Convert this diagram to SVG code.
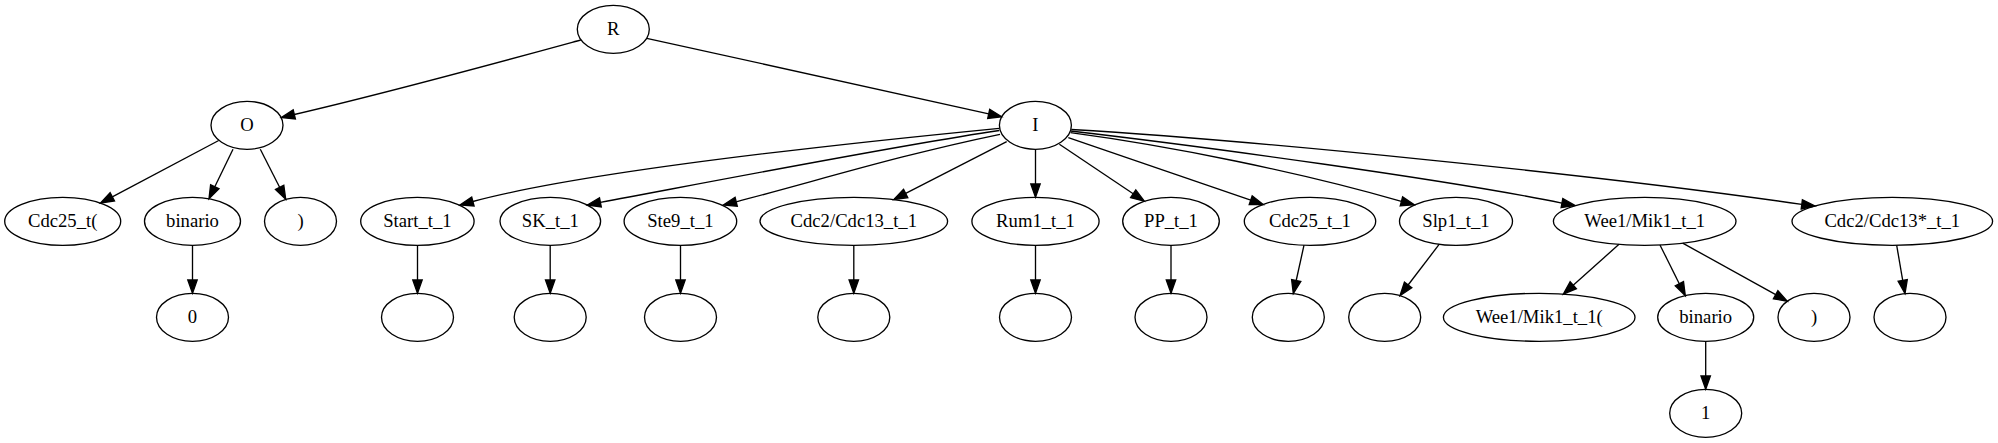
<svg xmlns="http://www.w3.org/2000/svg" width="1998" height="443" viewBox="0 0 1998 443">
<style>
.n ellipse{fill:none;stroke:#000;stroke-width:1.33}
.n text{font-family:"Liberation Serif","Times New Roman",serif;font-size:18.67px;text-anchor:middle;fill:#000}
#edges path{fill:none;stroke:#000;stroke-width:1.33}
#edges polygon{fill:#000;stroke:#000;stroke-width:1.33}
</style>
<rect width="1998" height="443" fill="#fff"/>
<g id="edges">
<path d="M580.8,40 C520.8,56.4 391.7,91.9 294.3,114.5"/><polygon points="293.2,109.9 281.3,117.5 295.4,119.0"/>
<path d="M646.8,38.3 L988.7,113.8"/><polygon points="989.7,109.3 1001.7,116.7 987.7,118.4"/>
<path d="M218.7,140.5 L112.3,196.8"/><polygon points="110.1,192.6 100.5,203 114.5,200.9"/>
<path d="M233,149.3 L214.8,186.8"/><polygon points="210.6,184.8 209,198.8 219.0,188.8"/>
<path d="M260.3,149.3 L279.6,187.3"/><polygon points="275.5,189.4 285.7,199.2 283.8,185.2"/>
<path d="M192.5,245.3 L192.5,280"/><polygon points="187.8,280 192.5,293.3 197.2,280"/>
<path d="M999.3,128.3 C849,143 588.7,170.3 472.9,201.5"/><polygon points="471.7,197.0 460,205 474.1,206.0"/>
<path d="M999.3,130.5 C900,145 720,180 600.4,202.4"/><polygon points="599.5,197.8 587.3,205 601.3,207.0"/>
<path d="M1000,134.3 C900,155 820,180 736.2,201.8"/><polygon points="735.1,197.3 723.3,205 737.3,206.3"/>
<path d="M1006.7,141.7 L905.7,193.4"/><polygon points="903.6,189.3 893.8,199.5 907.8,197.6"/>
<path d="M1035.5,149.3 L1035.5,184"/><polygon points="1030.8,184 1035.5,197.3 1040.2,184"/>
<path d="M1059.4,144.3 L1133.2,193.8"/><polygon points="1130.6,197.7 1144.3,201.2 1135.8,189.9"/>
<path d="M1068.3,137.7 L1250.7,200.2"/><polygon points="1249.2,204.6 1263.3,204.5 1252.2,195.8"/>
<path d="M1070.5,132.7 C1170,146 1300,172 1401.4,201.4"/><polygon points="1400.2,205.9 1414.3,204.8 1402.6,196.9"/>
<path d="M1070.5,131 C1200,146 1450,180 1561.9,203.1"/><polygon points="1561.1,207.7 1575,205.5 1562.8,198.5"/>
<path d="M1071.3,129.5 C1250,140 1600,175 1801.8,204.4"/><polygon points="1801.2,209.0 1815,206 1802.4,199.8"/>
<path d="M417.5,245.3 L417.5,280"/><polygon points="412.8,280 417.5,293.3 422.2,280"/>
<path d="M550.2,245.3 L550.2,280"/><polygon points="545.5,280 550.2,293.3 554.9,280"/>
<path d="M680.5,245.3 L680.5,280"/><polygon points="675.8,280 680.5,293.3 685.2,280"/>
<path d="M853.8,245.3 L853.8,280"/><polygon points="849.1,280 853.8,293.3 858.5,280"/>
<path d="M1035.5,245.3 L1035.5,280"/><polygon points="1030.8,280 1035.5,293.3 1040.2,280"/>
<path d="M1171,245.3 L1171,280"/><polygon points="1166.3,280 1171,293.3 1175.7,280"/>
<path d="M1304,245.2 L1296.2,280.5"/><polygon points="1291.6,279.5 1293.3,293.5 1300.8,281.5"/>
<path d="M1439.3,244.2 L1408.1,285.0"/><polygon points="1404.4,282.2 1400,295.6 1411.8,287.8"/>
<path d="M1619,244.3 L1573.2,285.2"/><polygon points="1570.1,281.7 1563.3,294.1 1576.4,288.7"/>
<path d="M1660,245 L1679.3,283.7"/><polygon points="1675.2,285.8 1685.3,295.6 1683.5,281.6"/>
<path d="M1682.7,243.1 L1775.7,294.7"/><polygon points="1773.4,298.8 1787.3,301.2 1777.9,290.7"/>
<path d="M1896.7,245.3 L1902.7,280.4"/><polygon points="1898.1,281.2 1905,293.5 1907.3,279.6"/>
<path d="M1705.7,341.3 L1705.7,376"/><polygon points="1701,376 1705.7,389.3 1710.4,376"/>
</g>
<g id="R" class="n"><ellipse cx="613.3" cy="29.3" rx="36" ry="24"/><text x="613.3" y="35.3">R</text></g>
<g id="O" class="n"><ellipse cx="247" cy="125.3" rx="36" ry="24"/><text x="247" y="131.3">O</text></g>
<g id="I" class="n"><ellipse cx="1035.4" cy="125.3" rx="36" ry="24"/><text x="1035.4" y="131.3">I</text></g>
<g id="cdc25open" class="n"><ellipse cx="62.7" cy="221.3" rx="58" ry="24"/><text x="62.7" y="227.3">Cdc25_t(</text></g>
<g id="binario1" class="n"><ellipse cx="192.5" cy="221.3" rx="48" ry="24"/><text x="192.5" y="227.3">binario</text></g>
<g id="close1" class="n"><ellipse cx="300.5" cy="221.3" rx="36" ry="24"/><text x="300.5" y="227.3">)</text></g>
<g id="start" class="n"><ellipse cx="417.4" cy="221.3" rx="56.7" ry="24"/><text x="417.4" y="227.3">Start_t_1</text></g>
<g id="sk" class="n"><ellipse cx="550.3" cy="221.3" rx="50.3" ry="24"/><text x="550.3" y="227.3">SK_t_1</text></g>
<g id="ste9" class="n"><ellipse cx="680.4" cy="221.3" rx="56.3" ry="24"/><text x="680.4" y="227.3">Ste9_t_1</text></g>
<g id="cdc2cdc13" class="n"><ellipse cx="853.8" cy="221.3" rx="93.8" ry="24"/><text x="853.8" y="227.3">Cdc2/Cdc13_t_1</text></g>
<g id="rum1" class="n"><ellipse cx="1035.5" cy="221.3" rx="63.6" ry="24"/><text x="1035.5" y="227.3">Rum1_t_1</text></g>
<g id="pp" class="n"><ellipse cx="1171" cy="221.3" rx="48.3" ry="24"/><text x="1171" y="227.3">PP_t_1</text></g>
<g id="cdc25" class="n"><ellipse cx="1310" cy="221.3" rx="65.7" ry="24"/><text x="1310" y="227.3">Cdc25_t_1</text></g>
<g id="slp1" class="n"><ellipse cx="1456" cy="221.3" rx="56.5" ry="24"/><text x="1456" y="227.3">Slp1_t_1</text></g>
<g id="wee1" class="n"><ellipse cx="1644.7" cy="221.3" rx="91.3" ry="24"/><text x="1644.7" y="227.3">Wee1/Mik1_t_1</text></g>
<g id="cdc2star" class="n"><ellipse cx="1892.3" cy="221.3" rx="100.3" ry="24"/><text x="1892.3" y="227.3">Cdc2/Cdc13*_t_1</text></g>
<g id="zero" class="n"><ellipse cx="192.5" cy="317.3" rx="36" ry="24"/><text x="192.5" y="323.3">0</text></g>
<g id="start_c" class="n"><ellipse cx="417.5" cy="317.3" rx="36" ry="24"/></g>
<g id="sk_c" class="n"><ellipse cx="550.2" cy="317.3" rx="36" ry="24"/></g>
<g id="ste9_c" class="n"><ellipse cx="680.5" cy="317.3" rx="36" ry="24"/></g>
<g id="cdc2cdc13_c" class="n"><ellipse cx="853.8" cy="317.3" rx="36" ry="24"/></g>
<g id="rum1_c" class="n"><ellipse cx="1035.5" cy="317.3" rx="36" ry="24"/></g>
<g id="pp_c" class="n"><ellipse cx="1171" cy="317.3" rx="36" ry="24"/></g>
<g id="cdc25_c" class="n"><ellipse cx="1288.3" cy="317.3" rx="36" ry="24"/></g>
<g id="slp1_c" class="n"><ellipse cx="1384.7" cy="317.3" rx="36" ry="24"/></g>
<g id="wee1open" class="n"><ellipse cx="1539.2" cy="317.3" rx="95.8" ry="24"/><text x="1539.2" y="323.3">Wee1/Mik1_t_1(</text></g>
<g id="binario2" class="n"><ellipse cx="1705.7" cy="317.3" rx="48" ry="24"/><text x="1705.7" y="323.3">binario</text></g>
<g id="close2" class="n"><ellipse cx="1814" cy="317.3" rx="36" ry="24"/><text x="1814" y="323.3">)</text></g>
<g id="cdc2star_c" class="n"><ellipse cx="1910" cy="317.3" rx="36" ry="24"/></g>
<g id="one" class="n"><ellipse cx="1705.7" cy="413.3" rx="36" ry="24"/><text x="1705.7" y="419.3">1</text></g>
</svg>
